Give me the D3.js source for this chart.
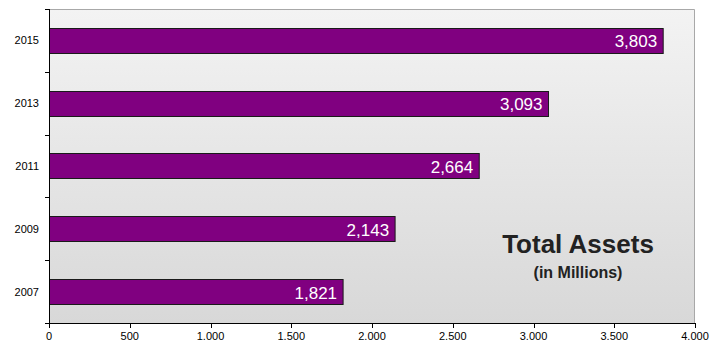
<!DOCTYPE html>
<html><head><meta charset="utf-8">
<script src="https://cdn.jsdelivr.net/npm/d3@7"></script>
<style>body{margin:0;background:#fff}svg{display:block}text{font-family:"Liberation Sans",Arial,sans-serif}</style>
</head><body>
<svg id="c" width="720" height="341"></svg>
<script>
const years = ["2015","2013","2011","2009","2007"];
const assets = [3803, 3093, 2664, 2143, 1821];
const xTicks = [0,500,1000,1500,2000,2500,3000,3500,4000];
const title = "Total Assets";
const subtitle = "(in Millions)";

const svg = d3.select("#c");
const m = {l:49, r:25, t:9, b:18};
const W = 720, H = 341;
const iw = W - m.l - m.r, ih = H - m.t - m.b;

const defs = svg.append("defs");
const g1 = defs.append("linearGradient").attr("id","bg").attr("x1",0).attr("y1",0).attr("x2",0).attr("y2",1);
g1.append("stop").attr("offset","0%").attr("stop-color","#f3f3f3");
g1.append("stop").attr("offset","100%").attr("stop-color","#d8d8d8");

const g = svg.append("g").attr("transform",`translate(${m.l},${m.t})`);
g.append("rect").attr("width",iw).attr("height",ih).attr("fill","url(#bg)");
g.append("path").attr("d",`M0,0.5H${iw-0.5}V${ih}`).attr("fill","none").attr("stroke","#a8a8a8").attr("stroke-width",1);

const x = d3.scaleLinear().domain([0,4000]).range([0,iw]);
const y = d3.scaleBand().domain(years).range([0,ih]).paddingInner(0.6).paddingOuter(0.3);
const yb = d3.scaleBand().domain(years).range([0,ih]);

g.selectAll("rect.bar").data(years).join("rect").attr("class","bar")
  .attr("x",0.5).attr("y",d=>Math.round(y(d))+0.5)
  .attr("width",(d,i)=>x(assets[i])-0.5).attr("height",Math.round(y.bandwidth()))
  .attr("fill","#800080").attr("stroke","#1a1a1a").attr("stroke-width",1);

const fmt = d3.formatLocale({decimal:",",thousands:".",grouping:[3],currency:["",""]}).format(",");
const fmtV = d3.format(",");

g.selectAll("text.val").data(years).join("text").attr("class","val")
  .attr("x",(d,i)=>x(assets[i])-6).attr("y",d=>y(d)+y.bandwidth()/2+7)
  .attr("text-anchor","end").attr("fill","#fff").attr("font-size",17)
  .text((d,i)=>fmtV(assets[i]));

// y axis
const ya = g.append("g");
ya.append("line").attr("x1",0.5).attr("x2",0.5).attr("y1",0).attr("y2",ih).attr("stroke","#000");
const bounds = years.map(d=>yb(d)).concat([ih]);
ya.selectAll("line.t").data(bounds).join("line").attr("class","t")
  .attr("x1",-4).attr("x2",0.5).attr("y1",d=>Math.round(d)+0.5).attr("y2",d=>Math.round(d)+0.5).attr("stroke","#000");
ya.selectAll("text").data(years).join("text")
  .attr("x",-10).attr("y",d=>y(d)+y.bandwidth()/2+4).attr("text-anchor","end")
  .attr("font-size",11).attr("fill","#000").text(d=>d);

// x axis
const xa = g.append("g").attr("transform",`translate(0,${ih})`);
xa.append("line").attr("x1",0).attr("x2",iw).attr("y1",0.5).attr("y2",0.5).attr("stroke","#000");
xa.selectAll("line.t").data(xTicks).join("line").attr("class","t")
  .attr("x1",d=>Math.round(x(d))+0.5).attr("x2",d=>Math.round(x(d))+0.5).attr("y1",0).attr("y2",5).attr("stroke","#000");
xa.selectAll("text").data(xTicks).join("text")
  .attr("x",d=>x(d)).attr("y",17).attr("text-anchor","middle").attr("font-size",11).attr("fill","#000")
  .text(d=>fmt(d));

svg.append("text").attr("x",578).attr("y",253).attr("text-anchor","middle").attr("font-size",26).attr("font-weight","bold").attr("fill","#222").text(title);
svg.append("text").attr("x",578).attr("y",278).attr("text-anchor","middle").attr("font-size",16).attr("font-weight","bold").attr("fill","#222").text(subtitle);
</script>
</body></html>
